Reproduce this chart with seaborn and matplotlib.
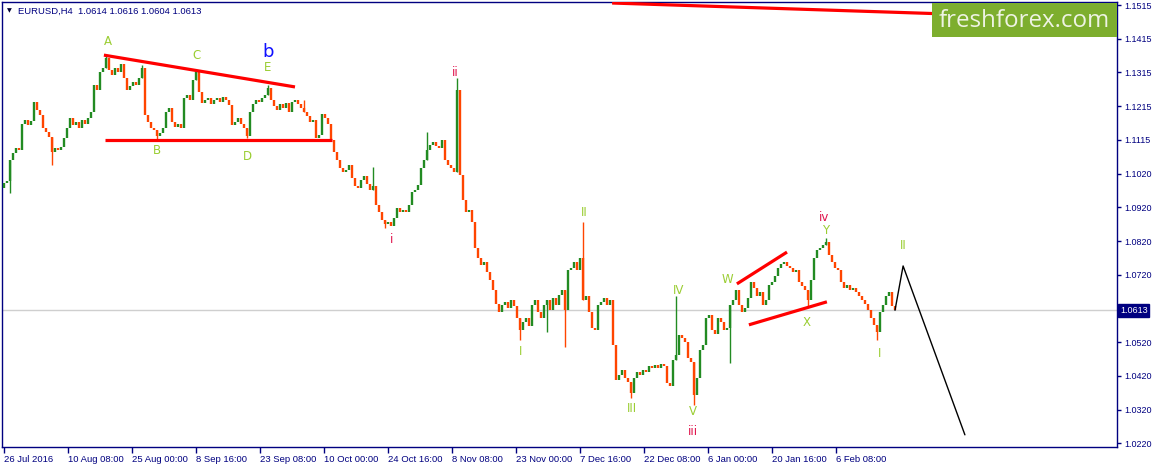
import numpy as np
import pandas as pd
import matplotlib
matplotlib.use("Agg")
import matplotlib.pyplot as plt
import matplotlib.transforms as mtransforms
from matplotlib.patches import Rectangle
import seaborn as sns

# ---------------- data ----------------
first_open = 1.0975
closes = [
    1.0989, 1.0995, 1.1057, 1.1078, 1.1093, 1.1087, 1.1164, 1.1175, 1.1161, 1.1172,
    1.1229, 1.1205, 1.1190, 1.1152, 1.1140, 1.1125, 1.1081, 1.1093, 1.1087, 1.1096,
    1.1122, 1.1152, 1.1181, 1.1161, 1.1170, 1.1152, 1.1175, 1.1164, 1.1181, 1.1199,
    1.1279, 1.1264, 1.1317, 1.1329, 1.1359, 1.1323, 1.1308, 1.1329, 1.1317, 1.1341,
    1.1300, 1.1264, 1.1276, 1.1288, 1.1279, 1.1300, 1.1329, 1.1190, 1.1170, 1.1152,
    1.1146, 1.1128, 1.1137, 1.1152, 1.1199, 1.1211, 1.1170, 1.1155, 1.1164, 1.1152,
    1.1240, 1.1249, 1.1235, 1.1294, 1.1317, 1.1258, 1.1226, 1.1235, 1.1240, 1.1223,
    1.1235, 1.1240, 1.1229, 1.1243, 1.1235, 1.1220, 1.1161, 1.1170, 1.1181, 1.1164,
    1.1152, 1.1128, 1.1199, 1.1223, 1.1235, 1.1229, 1.1240, 1.1249, 1.1270, 1.1235,
    1.1217, 1.1205, 1.1223, 1.1211, 1.1226, 1.1199, 1.1229, 1.1235, 1.1223, 1.1211,
    1.1199, 1.1187, 1.1170, 1.1175, 1.1122, 1.1131, 1.1193, 1.1181, 1.1164, 1.1116,
    1.1081, 1.1057, 1.1034, 1.1022, 1.1028, 1.1042, 1.1004, 1.0980, 1.0974, 1.0998,
    1.1010, 1.0986, 1.0969, 1.0980, 1.0924, 1.0904, 1.0880, 1.0868, 1.0874, 1.0862,
    1.0886, 1.0915, 1.0904, 1.0909, 1.0904, 1.0924, 1.0963, 1.0969, 1.0983, 1.1034,
    1.1057, 1.1087, 1.1102, 1.1110, 1.1099, 1.1093, 1.1116, 1.1057, 1.1042, 1.1034,
    1.1022, 1.1264, 1.1013, 1.0939, 1.0904, 1.0909, 1.0874, 1.0797, 1.0768, 1.0747,
    1.0756, 1.0726, 1.0703, 1.0673, 1.0632, 1.0608, 1.0629, 1.0638, 1.0620, 1.0644,
    1.0626, 1.0590, 1.0555, 1.0579, 1.0590, 1.0567, 1.0629, 1.0644, 1.0608, 1.0590,
    1.0629, 1.0644, 1.0614, 1.0649, 1.0629, 1.0658, 1.0673, 1.0614, 1.0732, 1.0738,
    1.0756, 1.0732, 1.0768, 1.0644, 1.0655, 1.0608, 1.0561, 1.0555, 1.0629, 1.0638,
    1.0649, 1.0629, 1.0644, 1.0511, 1.0407, 1.0422, 1.0437, 1.0413, 1.0401, 1.0369,
    1.0413, 1.0431, 1.0422, 1.0437, 1.0431, 1.0449, 1.0443, 1.0451, 1.0443, 1.0454,
    1.0449, 1.0398, 1.0389, 1.0466, 1.0481, 1.0540, 1.0531, 1.0519, 1.0472, 1.0460,
    1.0363, 1.0413, 1.0496, 1.0511, 1.0590, 1.0599, 1.0555, 1.0543, 1.0590, 1.0579,
    1.0555, 1.0561, 1.0629, 1.0644, 1.0673, 1.0629, 1.0608, 1.0620, 1.0649, 1.0697,
    1.0679, 1.0655, 1.0667, 1.0629, 1.0644, 1.0688, 1.0697, 1.0714, 1.0738, 1.0750,
    1.0756, 1.0744, 1.0738, 1.0726, 1.0732, 1.0697, 1.0685, 1.0673, 1.0644, 1.0703,
    1.0768, 1.0791, 1.0797, 1.0806, 1.0815, 1.0777, 1.0756, 1.0738, 1.0732, 1.0697,
    1.0679, 1.0688, 1.0673, 1.0679, 1.0667, 1.0655, 1.0644, 1.0632, 1.0614, 1.0590,
    1.0570, 1.0549, 1.0608, 1.0629, 1.0655, 1.0667, 1.0626, 1.0613,
]
# spikes (wick extremes) on selected bars
wick_bars = [2, 16, 34, 46, 51, 64, 81, 88, 100, 123, 127, 141, 151, 172, 181, 187,
             193, 209, 224, 230, 242, 268, 274, 291]
wick_prices = [1.0960, 1.1042, 1.1367, 1.1338, 1.1120, 1.1323, 1.1122, 1.1279, 1.1235,
               1.1037, 1.0856, 1.1140, 1.1300, 1.0525, 1.0549, 1.0505, 1.0874, 1.0354,
               1.0655, 1.0333, 1.0457, 1.0623, 1.0827, 1.0525]

last_price = 1.0613
title_text = "EURUSD,H4  1.0614 1.0616 1.0604 1.0613"

x_tick_labels = ["26 Jul 2016", "10 Aug 08:00", "25 Aug 00:00", "8 Sep 16:00",
                 "23 Sep 08:00", "10 Oct 00:00", "24 Oct 16:00", "8 Nov 08:00",
                 "23 Nov 00:00", "7 Dec 16:00", "22 Dec 08:00", "6 Jan 00:00",
                 "20 Jan 16:00", "6 Feb 08:00"]
y_tick_labels = ["1.1515", "1.1415", "1.1315", "1.1215", "1.1115", "1.1020", "1.0920",
                 "1.0820", "1.0720", "", "1.0520", "1.0420", "1.0320", "1.0220"]

# Elliott wave labels
wave_text = ["A", "C", "b", "E", "B", "D", "ii", "i", "II", "I", "III", "IV", "V", "iii",
             "W", "X", "iv", "Y", "II", "I"]
wave_x = [34.7, 64, 88, 88, 51, 81, 150.3, 129.3, 193.3, 172.3, 209.3, 224.7, 229.7, 229.7,
          241.3, 267.7, 273.3, 273.7, 299.7, 291.7]
wave_y = [1.1406, 1.1365, 1.1376, 1.1329, 1.1084, 1.1066, 1.1317, 1.0821, 1.0901, 1.0490,
          1.0324, 1.0670, 1.0313, 1.0256, 1.0703, 1.0578, 1.0886, 1.0850, 1.0803, 1.0484]
wave_kind = ["g", "g", "b", "g", "g", "g", "r", "r", "g", "g", "g", "g", "g", "r",
             "g", "g", "r", "g", "g", "g"]

# red trend lines (bar index, price)
trend_lines = {
    "tri_top": ([33.3, 97.0], [1.1367, 1.1273]),
    "tri_bottom": ([33.7, 109.3], [1.1116, 1.1116]),
    "long_top": ([202.7, 330.0], [1.1521, 1.1484]),
    "wedge_top": ([244.3, 261.0], [1.0691, 1.0785]),
    "wedge_bottom": ([248.3, 274.3], [1.0570, 1.0638]),
}
# projected path (black)
proj_x = [297.0, 299.7, 320.3]
proj_y = [1.0613, 1.0744, 1.0245]

# ---------------- figure ----------------
sns.set_theme(style="white")
plt.rcParams['font.family'] = ['Liberation Sans', 'DejaVu Sans']

W, H = 1157, 468
fig = plt.figure(figsize=(W / 100, H / 100), dpi=100)
fig.patch.set_facecolor("white")
ax = fig.add_axes([2 / W, 21 / H, 1115 / W, 445 / H])
ax.set_facecolor("white")

navy = "#000080"
up_col = "#228B22"
dn_col = "#FF4500"

df = pd.DataFrame({"close": closes})
df["open"] = [first_open] + closes[:-1]
df["idx"] = np.arange(len(df))
df["lo"] = df[["open", "close"]].min(axis=1)
df["hi"] = df[["open", "close"]].max(axis=1)
df["col"] = np.where(df["close"] >= df["open"], up_col, dn_col)

# current price line
ax.axhline(last_price, color="#CFCFCF", lw=1.0, zorder=0)

# wicks
for b, p in zip(wick_bars, wick_prices):
    row = df.iloc[b]
    lo = min(p, row["lo"])
    hi = max(p, row["hi"])
    ax.vlines(b, lo, hi, colors=row["col"], lw=1.0, zorder=2)

# bodies
ax.vlines(df["idx"], df["lo"], df["hi"], colors=df["col"], lw=1.7, zorder=3)

# red trend lines
for name, (xs, ys) in trend_lines.items():
    ax.plot(xs, ys, color="#FF0000", lw=2.3, solid_capstyle="butt", zorder=4)

# projection
sns.lineplot(x=proj_x, y=proj_y, color="black", lw=1.0, ax=ax, sort=False, zorder=4)

# wave labels
colmap = {"g": "#9ACD32", "r": "#E0144C", "b": "#1010FF"}
for t, x, y, k in zip(wave_text, wave_x, wave_y, wave_kind):
    ax.text(x, y, t, color=colmap[k], fontsize=13 if k == "b" else 8.5,
            ha="center", va="center", family=["DejaVu Sans"], zorder=5)

# axes limits / ticks
ax.set_xlim(-0.667, 371.0)
ax.set_ylim(1.0209, 1.1524)
n_x = len(x_tick_labels)
ax.set_xticks(-0.1 + 21.353 * np.arange(n_x))
ax.set_xticklabels(x_tick_labels)
for lbl in ax.get_xticklabels():
    lbl.set_horizontalalignment("left")
ax.set_yticks(np.linspace(1.1515, 1.0220, len(y_tick_labels)))
ax.set_yticklabels(y_tick_labels)
ax.yaxis.tick_right()
ax.tick_params(axis="y", direction="out", length=3, width=1, color=navy,
               labelcolor=navy, labelsize=6.5, pad=2)
ax.tick_params(axis="x", direction="out", length=4, width=1, color=navy,
               labelcolor=navy, labelsize=6.8, pad=2)
ax.tick_params(left=False, right=True, bottom=True, top=False)
for s in ax.spines.values():
    s.set_color(navy)
    s.set_linewidth(1.0)
ax.grid(False)
ax.set_xlabel("")
ax.set_ylabel("")

# price box at right
trans = mtransforms.blended_transform_factory(ax.transAxes, ax.transData)
ax.text(1.0 + 3 / 1115, last_price, f"{last_price:.4f}", transform=trans,
        ha="left", va="center", color="white", fontsize=6.5, clip_on=False, zorder=6,
        bbox=dict(boxstyle="square,pad=0.2", fc=navy, ec=navy))

# title
fig.text(7 / W, 1 - 11 / H, "\u25BC", fontsize=4.5, color="#000033", va="center",
         ha="left", family=["DejaVu Sans"])
fig.text(18 / W, 1 - 11 / H, title_text, fontsize=6.8, color=navy, va="center", ha="left")

# logo
fig.patches.append(Rectangle((932 / W, 1 - 37 / H), (1117 - 932) / W, 34 / H,
                             transform=fig.transFigure, facecolor="#7DAE2E",
                             edgecolor="none", zorder=5))
fig.text(1024 / W, 1 - 21 / H, "freshforex.com", fontsize=17.4, color="#EEF3E3",
         ha="center", va="center", family=["Open Sans", "DejaVu Sans"], zorder=6)

fig.savefig("out.png", dpi=100, facecolor="white")
